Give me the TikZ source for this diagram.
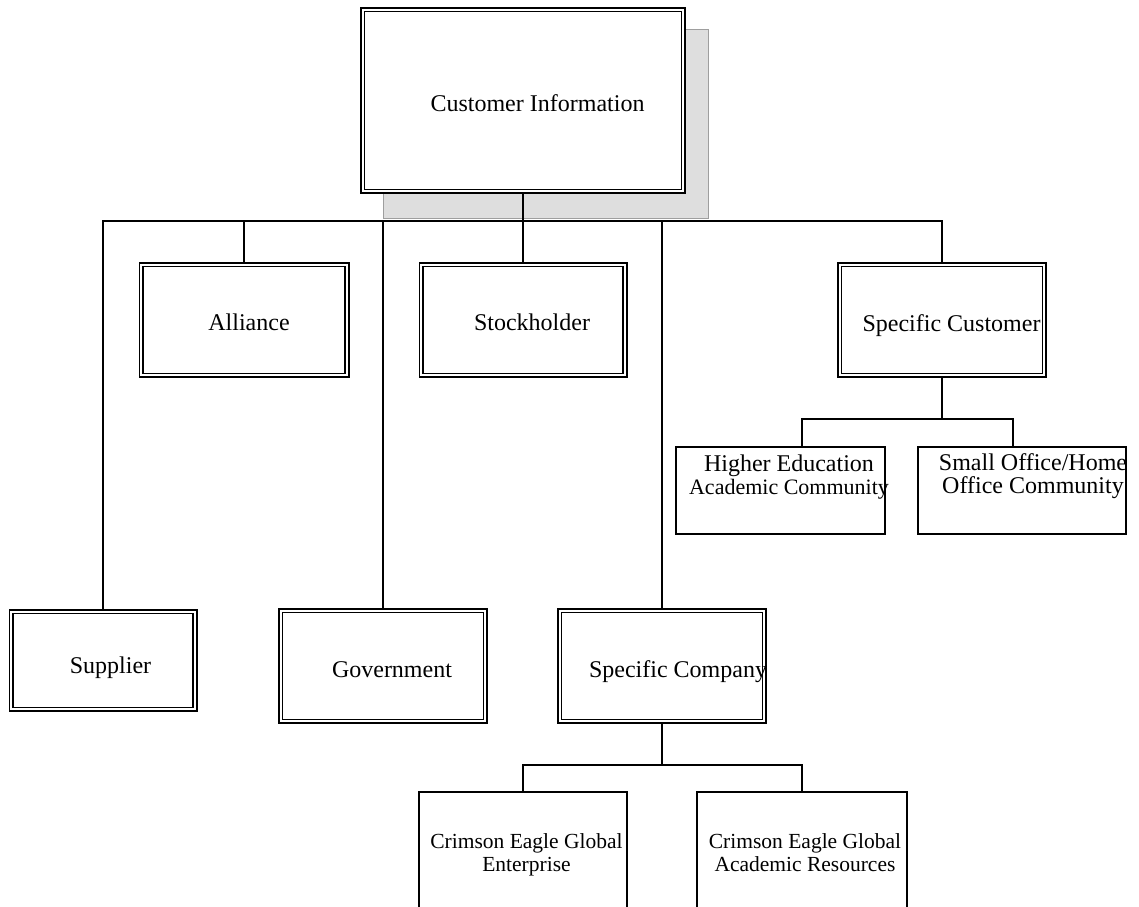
\documentclass[tikz,border=0pt]{standalone}
\usepackage{fontspec}
\setmainfont{Liberation Serif}
\begin{document}
\begin{tikzpicture}[x=1pt, y=-1pt,
  dbox/.style={rectangle, draw, line width=1.6pt, double, double distance=2.2pt,
               fill=white, inner sep=0pt, outer sep=2.7pt},
  sbox/.style={rectangle, draw, line width=1.6pt, fill=white, inner sep=0pt, outer sep=0.8pt},
  link/.style={line width=1.6pt},
  lbl/.style={inner sep=0pt, anchor=base, align=center, font=\fontsize{24}{23}\selectfont},
  small/.style={inner sep=0pt, anchor=base, align=center, font=\fontsize{21.5}{23}\selectfont},
  shade/.style={fill=black!13, draw=black!38, line width=0.9pt}
]
\useasboundingbox (0,0) rectangle (1139,906);
\clip (0,0) rectangle (1139,906);

% shadow behind the root box
\path[shade] (383,29) rectangle (708,218);

% boxes
\node[dbox, minimum width=320.6pt, minimum height=181.6pt] (ci)  at (523,100.5) {};
\node[dbox, minimum width=205.6pt, minimum height=110.6pt] (all) at (244,320) {};
\node[dbox, minimum width=203.6pt, minimum height=110.6pt] (sth) at (523,320) {};
\node[dbox, minimum width=204.6pt, minimum height=110.6pt] (scu) at (942,320) {};
\node[dbox, minimum width=183.6pt, minimum height=97.6pt]  (sup) at (103,660.5) {};
\node[dbox, minimum width=204.6pt, minimum height=110.6pt] (gov) at (383,666) {};
\node[dbox, minimum width=204.6pt, minimum height=110.6pt] (sco) at (662,666) {};

\node[sbox, minimum width=209.4pt, minimum height=87.4pt]  (hed) at (780.5,490.5) {};
\node[sbox, minimum width=208.4pt, minimum height=87.4pt]  (sof) at (1022,490.5) {};
\node[sbox, minimum width=208.4pt, minimum height=158pt]   (ceg) at (523,871) {};
\node[sbox, minimum width=210.4pt, minimum height=158pt]   (cea) at (802,871) {};

% junction points of the buses
\coordinate (bus)  at (523,221);
\coordinate (hedj) at (802,419);
\coordinate (sofj) at (1013,419);
\coordinate (lbus) at (662,765);

% top level bus
\draw[link] (ci.south) -- (sth.north);
\draw[link] (sup.north) -- (sup.north |- bus) -- (scu.north |- bus) -- (scu.north);
\draw[link] (all.north) -- (all.north |- bus);
\draw[link] (gov.north) -- (gov.north |- bus);
\draw[link] (sco.north) -- (sco.north |- bus);

% specific customer branch
\draw[link] (scu.south) -- (scu.south |- hedj);
\draw[link] (hed.north -| hedj) -- (hedj) -- (sofj) -- (sof.north -| sofj);

% specific company branch
\draw[link] (sco.south) -- (sco.south |- lbus);
\draw[link] (ceg.north) -- (ceg.north |- lbus) -- (cea.north |- lbus) -- (cea.north);

% labels (base anchor sits on the last line)
\node[lbl] (ci-t)  at (537.5,111) {Customer Information};
\node[lbl] (all-t) at (249,330) {Alliance};
\node[lbl] (sth-t) at (532,330) {Stockholder};
\node[lbl] (scu-t) at (951.5,331) {Specific Customer};
\node[lbl] (sup-t) at (110.5,673) {Supplier};
\node[lbl] (gov-t) at (392,677) {Government};
\node[lbl] (sco-t) at (678,677) {Specific Company};
\node[lbl] (hed-t) at (789,494) {Higher Education\\{\fontsize{22}{23}\selectfont Academic Community}};
\node[lbl] (sof-t) at (1033,493) {Small Office/Home\\Office Community};
\node[small] (ceg-t) at (526.5,871) {Crimson Eagle Global\\Enterprise};
\node[small] (cea-t) at (805,871) {Crimson Eagle Global\\Academic Resources};
\end{tikzpicture}
\end{document}
